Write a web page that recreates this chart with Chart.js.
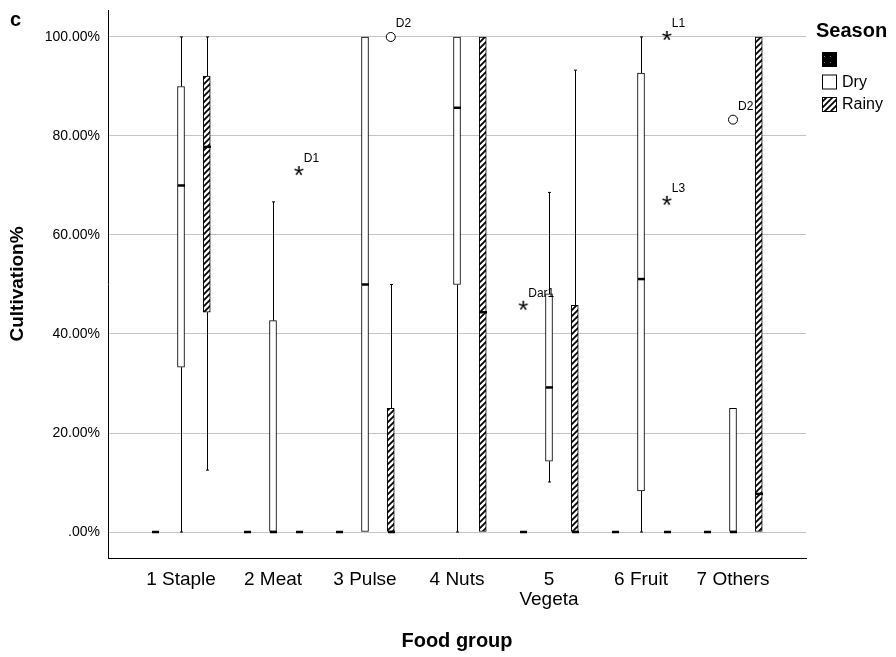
<!DOCTYPE html>
<html>
<head>
<meta charset="utf-8">
<script src="https://cdn.jsdelivr.net/npm/chart.js@4/dist/chart.umd.min.js"></script>
<style>
  body{margin:0;background:#fff}
  #wrap{width:896px;height:657px;position:relative}
</style>
</head>
<body>
<div id="wrap"><canvas id="boxChart"></canvas></div>
<script>
// categories and series
const foodGroups = ['1 Staple','2 Meat','3 Pulse','4 Nuts',['5','Vegeta'],'6 Fruit','7 Others'];
const seasons = ['', 'Dry', 'Rainy'];
const yTicks = [0,20,40,60,80,100];

// five number summaries per food group: [min, q1, median, q3, max] (null = no cases)
const blankStats = [[0,0,0,0,0],[0,0,0,0,0],[0,0,0,0,0],null,[0,0,0,0,0],[0,0,0,0,0],[0,0,0,0,0]];
const dryStats = [[0,33.3,70,90,100],[0,0,0,42.7,66.7],[0,0,50,100,100],[0,50,85.7,100,100],[10.1,14.3,29.2,48.1,68.6],[0,8.3,51.1,92.7,100],[0,0,0,25,25]];
const rainyStats = [[12.5,44.4,77.8,92.1,100],[0,0,0,0,0],[0,0,0,25,50],[0,0,44.4,100,100],[0,0,0,45.8,93.3],[0,0,0,0,0],[0,0,7.7,100,100]];

// outliers (group index, season index, value, case label, extreme?)
const outGroup = [1,2,4,5,5,6];
const outSeason = [2,2,0,2,2,1];
const outValue = [72.7,100,45.5,100,66.7,83.3];
const outLabel = ['D1','D2','Dar1','L1','L3','D2'];
const outExtreme = [true,false,true,true,true,false];

const allStats = [blankStats, dryStats, rainyStats];
const seasonShift = [-0.28, 0, 0.28];
const boxW = 7;
const font = 'Liberation Sans, Arial, sans-serif';

let ctx = document.getElementById('boxChart').getContext('2d');

function tile(draw){
  let c = document.createElement('canvas'); c.width = 6; c.height = 6;
  draw(c.getContext('2d'));
  return c;
}
const hatchTile = tile(g => {
  g.fillStyle = '#fff'; g.fillRect(0,0,6,6);
  g.strokeStyle = '#000'; g.lineWidth = 1.8; g.beginPath();
  g.moveTo(0,6); g.lineTo(6,0);
  g.moveTo(-3,3); g.lineTo(3,-3);
  g.moveTo(3,9); g.lineTo(9,3);
  g.stroke();
});
const dotTile = tile(g => {
  g.fillStyle = '#000'; g.fillRect(0,0,6,6);
  g.fillStyle = '#777'; g.fillRect(2,2,1,1);
});
const hatch = ctx.createPattern(hatchTile,'repeat');
const dots = ctx.createPattern(dotTile,'repeat');
const fills = [dots, '#fff', hatch];

const starImg = (() => {
  let c = document.createElement('canvas'); c.width = 16; c.height = 16;
  let g = c.getContext('2d');
  g.fillStyle = '#000'; g.font = '26px ' + font;
  g.textAlign = 'center'; g.textBaseline = 'middle';
  g.fillText('*', 8, 13);
  return c;
})();

const xOf = (g, s) => g + 1 + seasonShift[s];

const boxSets = allStats.map((stats, s) => ({
  type: 'bar',
  label: seasons[s],
  data: stats.map((st, g) => st ? {x: xOf(g, s), y: [st[1], st[3]]} : null).filter(d => d),
  backgroundColor: fills[s],
  borderColor: '#000',
  borderWidth: 1,
  borderSkipped: false,
  barThickness: boxW,
  grouped: false
}));

const pick = ext => outValue.map((v, i) => ({x: xOf(outGroup[i], outSeason[i]), y: v, ext: outExtreme[i]})).filter(p => p.ext === ext);

const outSets = [
  {type: 'scatter', label: 'out', data: pick(false), pointStyle: 'circle', radius: 4.5,
   backgroundColor: '#fff', borderColor: '#000', borderWidth: 1},
  {type: 'scatter', label: 'extreme', data: pick(true), pointStyle: starImg}
];

const extras = {
  id: 'extras',
  afterDatasetsDraw(chart) {
    const c = chart.ctx, xs = chart.scales.x, ys = chart.scales.y;
    c.save();
    c.strokeStyle = '#000';
    allStats.forEach((stats, s) => stats.forEach((st, g) => {
      if (!st) return;
      const px = Math.round(xs.getPixelForValue(xOf(g, s))) + 0.5;
      const [mn, q1, md, q3, mx] = st.map(v => ys.getPixelForValue(v));
      c.lineWidth = 1;
      c.beginPath();
      if (mx < q3) { c.moveTo(px, q3); c.lineTo(px, mx); c.moveTo(px - 1.5, mx); c.lineTo(px + 1.5, mx); }
      if (mn > q1) { c.moveTo(px, q1); c.lineTo(px, mn); c.moveTo(px - 1.5, mn); c.lineTo(px + 1.5, mn); }
      c.stroke();
      c.lineWidth = 2.5;
      c.beginPath();
      c.moveTo(px - boxW / 2, md); c.lineTo(px + boxW / 2, md);
      c.stroke();
    }));
    c.fillStyle = '#000';
    c.font = '12px ' + font;
    c.textBaseline = 'middle';
    outValue.forEach((v, i) => {
      const px = xs.getPixelForValue(xOf(outGroup[i], outSeason[i]));
      const py = ys.getPixelForValue(v);
      c.fillText(outLabel[i], px + 5, py - 13);
    });
    c.restore();
  },
  afterDraw(chart) {
    const c = chart.ctx;
    c.save();
    c.fillStyle = '#000';
    c.textBaseline = 'middle';
    c.font = 'bold 20px ' + font;
    c.fillText('c', 10, 20);
    const lx = chart.chartArea.right + 10;
    c.font = 'bold 20px ' + font;
    c.fillText('Season', lx, 31);
    c.font = '16px ' + font;
    seasons.forEach((name, s) => {
      const top = 52 + s * 22.5;
      c.fillStyle = fills[s];
      c.fillRect(lx + 6, top, 15, 15);
      c.strokeStyle = '#000'; c.lineWidth = 1;
      c.strokeRect(lx + 6.5, top + 0.5, 14, 14);
      c.fillStyle = '#000';
      c.fillText(name, lx + 26, top + 8);
    });
    c.restore();
  }
};

let chart = new Chart(ctx, {
  type: 'bar',
  data: {datasets: [...boxSets, ...outSets]},
  options: {
    responsive: true,
    maintainAspectRatio: false,
    animation: false,
    layout: {padding: {left: 0, right: 90, top: 10, bottom: 0}},
    plugins: {legend: {display: false}, tooltip: {enabled: false}},
    scales: {
      x: {
        type: 'linear', position: 'bottom', offset: false,
        min: 0.2065, max: 7.7935,
        afterBuildTicks: s => { s.ticks = foodGroups.map((_, i) => ({value: i + 1})); },
        afterFit: s => { s.height = 99; s.paddingLeft = 0; s.paddingRight = 0; },
        grid: {display: false},
        border: {color: '#000', width: 1},
        ticks: {autoSkip: false, maxRotation: 0, padding: 4, color: '#000',
                font: {family: font, size: 19, lineHeight: 1.05}, callback: v => foodGroups[v - 1]},
        title: {display: true, text: 'Food group', color: '#000', padding: {bottom: 4},
                font: {family: font, size: 20, weight: 'bold'}}
      },
      y: {
        min: -5.25, max: 105.45,
        afterBuildTicks: s => { s.ticks = yTicks.map(v => ({value: v})); },
        afterFit: s => { s.width = 108; s.paddingTop = 0; s.paddingBottom = 0; },
        grid: {color: '#c4c4c4', drawTicks: false},
        border: {color: '#000', width: 1},
        ticks: {padding: 8, color: '#000', font: {family: font, size: 14},
                callback: v => v === 0 ? '.00%' : v.toFixed(2) + '%'},
        title: {display: true, text: 'Cultivation%', color: '#000', padding: {top: 6},
                font: {family: font, size: 19, weight: 'bold'}}
      }
    }
  },
  plugins: [extras]
});
</script>
</body>
</html>
